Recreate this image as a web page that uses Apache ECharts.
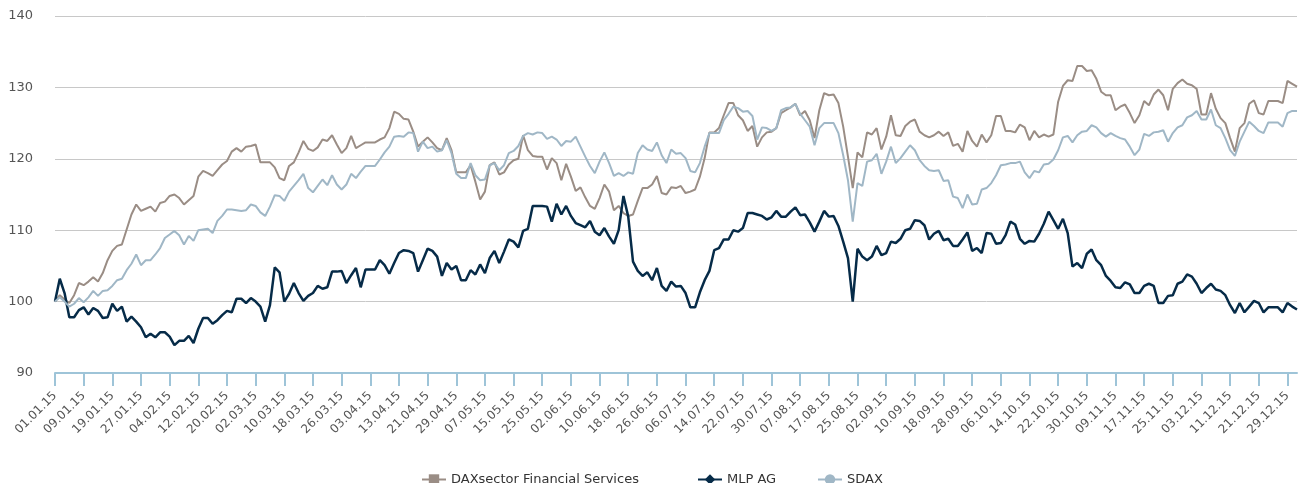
<!DOCTYPE html>
<html>
<head>
<meta charset="utf-8">
<title>Performance 2015</title>
<script src="https://cdn.jsdelivr.net/npm/echarts@6/dist/echarts.min.js"></script>
<style>
  html, body { margin: 0; padding: 0; background: #fff; }
  #chart { width: 1301px; height: 483px; }
</style>
</head>
<body>
<div id="chart"></div>
<script>
// trading days (all weekdays of 2015), label format dd.mm.yy
var dates = [];
(function () {
  var d = new Date(2015, 0, 1);
  while (d.getFullYear() === 2015) {
    var wd = d.getDay();
    if (wd !== 0 && wd !== 6) {
      var dd = ('0' + d.getDate()).slice(-2);
      var mm = ('0' + (d.getMonth() + 1)).slice(-2);
      dates.push(dd + '.' + mm + '.15');
    }
    d.setDate(d.getDate() + 1);
  }
})();

var yTicks = [90, 100, 110, 120, 130, 140];

var daxSector = [
  100.0, 100.9, 100.3, 99.8, 100.9, 102.6, 102.3, 102.8, 103.4, 102.8,
  104.0, 105.8, 107.1, 107.8, 108.0, 110.1, 112.2, 113.6, 112.7, 113.0,
  113.3, 112.6, 113.8, 114.0, 114.8, 115.0, 114.5, 113.6, 114.2, 114.8,
  117.5, 118.3, 118.0, 117.6, 118.4, 119.2, 119.7, 121.0, 121.5, 121.0,
  121.7, 121.8, 122.0, 119.5, 119.5, 119.5, 118.8, 117.3, 117.0, 119.0,
  119.5, 120.9, 122.5, 121.4, 121.1, 121.6, 122.7, 122.5, 123.3, 122.0,
  120.8, 121.5, 123.2, 121.5, 121.9, 122.3, 122.3, 122.3, 122.7, 123.0,
  124.3, 126.6, 126.3, 125.6, 125.5, 123.8, 121.7, 122.4, 123.0, 122.3,
  121.5, 121.2, 122.9, 121.2, 118.1, 118.1, 118.1, 119.1, 116.8, 114.3,
  115.4, 119.1, 119.5, 117.8, 118.1, 119.2, 119.8, 120.0, 123.3, 121.2,
  120.4, 120.3, 120.3, 118.5, 120.1, 119.4, 117.0, 119.3, 117.5, 115.5,
  116.0, 114.6, 113.4, 113.0, 114.5, 116.4, 115.4, 112.8, 113.4, 112.4,
  112.0, 112.2, 114.1, 115.9, 115.9, 116.4, 117.6, 115.2, 115.0, 116.0,
  115.9, 116.2, 115.2, 115.4, 115.7, 117.5, 120.1, 123.7, 123.7, 124.3,
  126.1, 127.8, 127.8, 126.1, 125.4, 123.9, 124.6, 121.7, 123.0, 123.7,
  123.8, 124.3, 126.4, 126.8, 127.2, 127.7, 126.1, 126.7, 125.4, 122.9,
  126.8, 129.2, 128.9, 129.0, 127.8, 124.5, 120.3, 115.9, 120.9, 120.2,
  123.7, 123.4, 124.3, 121.3, 123.1, 126.1, 123.3, 123.2, 124.6, 125.2,
  125.5, 123.8, 123.3, 123.0, 123.3, 123.8, 123.2, 123.7, 121.8, 122.1,
  121.0, 123.9, 122.5, 121.7, 123.4, 122.3, 123.3, 126.0, 126.0, 123.9,
  123.9, 123.7, 124.8, 124.4, 122.6, 123.9, 123.0, 123.4, 123.1, 123.4,
  128.0, 130.2, 131.0, 130.9, 133.0, 133.0, 132.3, 132.4, 131.2, 129.4,
  128.9, 128.9, 126.8, 127.3, 127.6, 126.4, 125.0, 126.1, 128.1, 127.5,
  129.0, 129.7, 128.9, 126.8, 129.8, 130.6, 131.1, 130.5, 130.3, 129.8,
  126.2, 126.2, 129.2, 127.0, 125.7, 125.0, 122.9, 121.0, 124.3, 125.0,
  127.7, 128.2, 126.4, 126.2, 128.1, 128.1, 128.1, 127.8, 130.9, 130.5,
  130.1
];

var mlp = [
  100.0, 103.2, 101.2, 97.8, 97.8, 98.8, 99.2, 98.2, 99.1, 98.7,
  97.7, 97.8, 99.7, 98.7, 99.3, 97.2, 97.9, 97.2, 96.4, 95.0,
  95.5, 95.0, 95.7, 95.7, 95.1, 93.9, 94.5, 94.5, 95.2, 94.2,
  96.2, 97.7, 97.7, 96.9, 97.4, 98.1, 98.7, 98.5, 100.4, 100.4,
  99.8, 100.5, 100.0, 99.3, 97.2, 99.5, 104.8, 104.1, 100.0, 101.1,
  102.6, 101.2, 100.1, 100.8, 101.2, 102.2, 101.8, 102.0, 104.2, 104.2,
  104.3, 102.6, 103.7, 104.7, 102.0, 104.5, 104.5, 104.5, 105.8, 105.1,
  103.9, 105.4, 106.8, 107.2, 107.1, 106.8, 104.2, 105.8, 107.4, 107.1,
  106.3, 103.6, 105.4, 104.5, 105.0, 103.0, 103.0, 104.4, 103.8, 105.2,
  104.0, 106.1, 107.1, 105.4, 107.0, 108.7, 108.4, 107.6, 109.9, 110.2,
  113.4, 113.4, 113.4, 113.3, 111.2, 113.7, 112.2, 113.4, 112.0, 111.0,
  110.7, 110.4, 111.3, 109.8, 109.3, 110.3, 109.1, 108.1, 110.0, 114.8,
  111.9, 105.6, 104.3, 103.6, 104.1, 103.0, 104.7, 102.2, 101.5, 102.8,
  102.1, 102.2, 101.2, 99.2, 99.2, 101.3, 103.0, 104.3, 107.2, 107.5,
  108.7, 108.7, 110.0, 109.8, 110.3, 112.4, 112.4, 112.2, 112.0, 111.5,
  111.8, 112.7, 111.9, 111.9, 112.6, 113.2, 112.1, 112.2, 111.1, 109.8,
  111.2, 112.7, 111.9, 112.0, 110.6, 108.4, 106.1, 100.0, 107.4, 106.3,
  105.8, 106.3, 107.8, 106.5, 106.8, 108.4, 108.2, 108.8, 110.0, 110.2,
  111.4, 111.3, 110.7, 108.7, 109.5, 109.9, 108.6, 108.8, 107.8, 107.8,
  108.7, 109.7, 107.1, 107.5, 106.8, 109.6, 109.5, 108.1, 108.2, 109.3,
  111.2, 110.8, 108.8, 108.1, 108.5, 108.4, 109.5, 110.9, 112.6, 111.4,
  110.2, 111.6, 109.6, 104.9, 105.4, 104.7, 106.7, 107.3, 105.8, 105.1,
  103.6, 102.9, 102.0, 101.9, 102.7, 102.4, 101.2, 101.2, 102.2, 102.5,
  102.2, 99.8, 99.8, 100.8, 100.9, 102.5, 102.8, 103.8, 103.5, 102.5,
  101.2, 101.9, 102.5, 101.7, 101.5, 100.9, 99.5, 98.4, 99.8, 98.5,
  99.3, 100.1, 99.8, 98.5, 99.2, 99.2, 99.2, 98.5, 99.8, 99.3,
  98.9
];

var sdax = [
  100.0, 100.6, 100.0, 99.3, 99.7, 100.5, 99.9, 100.6, 101.5, 100.8,
  101.5, 101.6, 102.2, 103.0, 103.2, 104.4, 105.3, 106.6, 105.1, 105.8,
  105.8, 106.6, 107.5, 108.9, 109.4, 109.9, 109.3, 108.0, 109.2, 108.5,
  110.0, 110.1, 110.2, 109.6, 111.3, 112.0, 112.9, 112.9, 112.8, 112.7,
  112.8, 113.6, 113.4, 112.5, 112.0, 113.3, 114.9, 114.8, 114.1, 115.4,
  116.2, 117.0, 117.9, 115.9, 115.3, 116.2, 117.1, 116.3, 117.7, 116.4,
  115.7, 116.4, 117.9, 117.3, 118.2, 119.0, 119.0, 119.0, 119.9, 120.9,
  121.7, 123.1, 123.2, 123.1, 123.7, 123.6, 121.0, 122.4, 121.5, 121.7,
  121.0, 121.2, 122.6, 120.8, 117.9, 117.3, 117.3, 119.4, 117.7, 117.0,
  117.1, 119.1, 119.4, 118.4, 119.1, 120.8, 121.1, 121.8, 123.2, 123.6,
  123.4, 123.7, 123.6, 122.8, 123.1, 122.7, 121.8, 122.5, 122.4, 123.1,
  121.7, 120.3, 119.0, 118.0, 119.6, 120.9, 119.4, 117.6, 118.0, 117.6,
  118.1, 117.9, 120.8, 121.9, 121.3, 121.1, 122.3, 120.5, 119.4, 121.3,
  120.7, 120.8, 120.1, 118.3, 118.1, 119.4, 121.7, 123.6, 123.6, 123.6,
  125.4, 126.3, 127.3, 127.1, 126.6, 126.7, 126.0, 122.7, 124.4, 124.3,
  123.9, 124.3, 126.8, 127.1, 127.2, 127.7, 126.3, 125.4, 124.5, 121.9,
  124.3, 125.0, 125.0, 125.0, 123.6, 120.5, 117.0, 111.2, 116.6, 116.2,
  119.6, 119.8, 120.7, 117.9, 119.6, 121.7, 119.4, 120.1, 121.0, 121.9,
  121.2, 119.8, 119.0, 118.4, 118.3, 118.4, 116.9, 117.0, 114.7, 114.5,
  113.1, 115.0, 113.6, 113.7, 115.7, 115.9, 116.6, 117.7, 119.1, 119.2,
  119.4, 119.4, 119.6, 118.1, 117.3, 118.3, 118.1, 119.2, 119.3, 119.9,
  121.2, 123.0, 123.2, 122.3, 123.3, 123.8, 123.9, 124.7, 124.4, 123.6,
  123.1, 123.6, 123.2, 122.9, 122.7, 121.7, 120.5, 121.3, 123.5, 123.2,
  123.7, 123.8, 124.0, 122.4, 123.6, 124.4, 124.7, 125.8, 126.1, 126.7,
  125.5, 125.5, 126.9, 124.7, 124.3, 122.9, 121.2, 120.4, 122.4, 123.8,
  125.2, 124.6, 123.9, 123.6, 125.1, 125.1, 125.1, 124.5, 126.4, 126.7,
  126.7
];

var seriesNames = ['DAXsector Financial Services', 'MLP AG', 'SDAX'];
var seriesColors = ['#9a8d85', '#062b48', '#a0b7c6'];

var myChart = echarts.init(document.getElementById('chart'));

function legendFor(i, left) {
  return {
    data: [seriesNames[i]],
    left: left,
    top: 468,
    itemWidth: 24,
    itemHeight: 13,
    textStyle: { fontFamily: 'DejaVu Sans', fontSize: 13, color: '#333' },
    selectedMode: false
  };
}

myChart.setOption({
  animation: false,
  textStyle: { fontFamily: 'DejaVu Sans' },
  grid: { left: 55, right: 4, top: 16, bottom: 110 },
  legend: [legendFor(0, 416), legendFor(1, 692), legendFor(2, 812)],
  xAxis: {
    type: 'category',
    data: dates,
    boundaryGap: false,
    axisLine: { show: true, lineStyle: { color: '#9ec4d8', width: 2 } },
    axisTick: {
      show: true,
      interval: 5,
      length: 13,
      lineStyle: { color: '#9ec4d8', width: 2 }
    },
    axisLabel: {
      interval: 5,
      rotate: 45,
      margin: 21,
      fontSize: 12,
      color: '#555',
      fontFamily: 'DejaVu Sans'
    },
    splitLine: { show: false }
  },
  yAxis: {
    type: 'value',
    min: yTicks[0],
    max: yTicks[yTicks.length - 1],
    interval: 10,
    axisLine: { show: false },
    axisTick: { show: false },
    axisLabel: { margin: 22, fontSize: 13, color: '#555', fontFamily: 'DejaVu Sans' },
    splitLine: { lineStyle: { color: '#c8c8c8', width: 1 } }
  },
  series: [
    {
      name: seriesNames[0], type: 'line', data: daxSector,
      symbol: 'rect', showSymbol: false,
      color: seriesColors[0], lineStyle: { width: 2 }
    },
    {
      name: seriesNames[1], type: 'line', data: mlp,
      symbol: 'diamond', showSymbol: false,
      color: seriesColors[1], lineStyle: { width: 2.5 }
    },
    {
      name: seriesNames[2], type: 'line', data: sdax,
      symbol: 'circle', showSymbol: false,
      color: seriesColors[2], lineStyle: { width: 2 }
    }
  ]
});
</script>
</body>
</html>
